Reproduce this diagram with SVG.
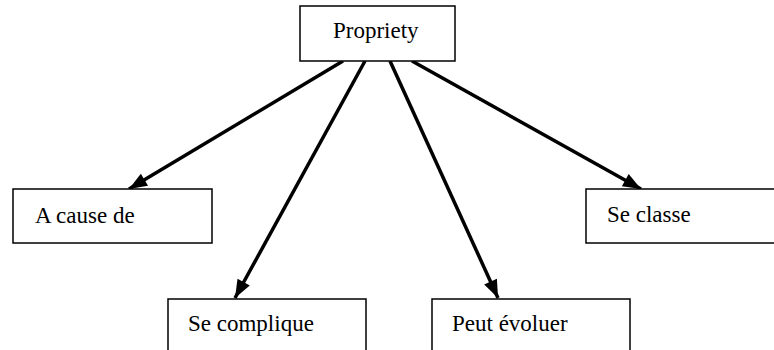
<svg xmlns="http://www.w3.org/2000/svg" width="774" height="350" viewBox="0 0 774 350">
  <style>
    .box { fill: #ffffff; stroke: #000000; stroke-width: 1.5; }
    .label { font-family: "Liberation Serif", "Times New Roman", serif; font-size: 23px; fill: #000000; }
    .edge { stroke: #000000; stroke-width: 3.5; fill: none; marker-end: url(#arrow); }
  </style>
  <defs>
    <marker id="arrow" markerUnits="userSpaceOnUse" markerWidth="20" markerHeight="16" refX="19" refY="8" orient="auto">
      <path d="M1,1 L19,8 L1,15 z" fill="#000000"/>
    </marker>
  </defs>
  <rect width="774" height="350" fill="#ffffff"/>

  <g id="connectors">
    <line class="edge" x1="343" y1="61" x2="129" y2="189"/>
    <line class="edge" x1="365" y1="61" x2="235" y2="298"/>
    <line class="edge" x1="390" y1="61" x2="498" y2="298"/>
    <line class="edge" x1="412" y1="61" x2="641" y2="189"/>
  </g>

  <g id="propriety">
    <rect class="box" x="300" y="6" width="155" height="55"/>
    <text class="label" x="333" y="38">Propriety</text>
  </g>

  <g id="a-cause-de">
    <rect class="box" x="13" y="189" width="199" height="54"/>
    <text class="label" x="35" y="223">A cause de</text>
  </g>

  <g id="se-classe">
    <rect class="box" x="586" y="189" width="200" height="54"/>
    <text class="label" x="607" y="222">Se classe</text>
  </g>

  <g id="se-complique">
    <rect class="box" x="168" y="299" width="198" height="60"/>
    <text class="label" x="188" y="331">Se complique</text>
  </g>

  <g id="peut-evoluer">
    <rect class="box" x="432" y="299" width="198" height="60"/>
    <text class="label" x="452" y="331">Peut évoluer</text>
  </g>
</svg>
